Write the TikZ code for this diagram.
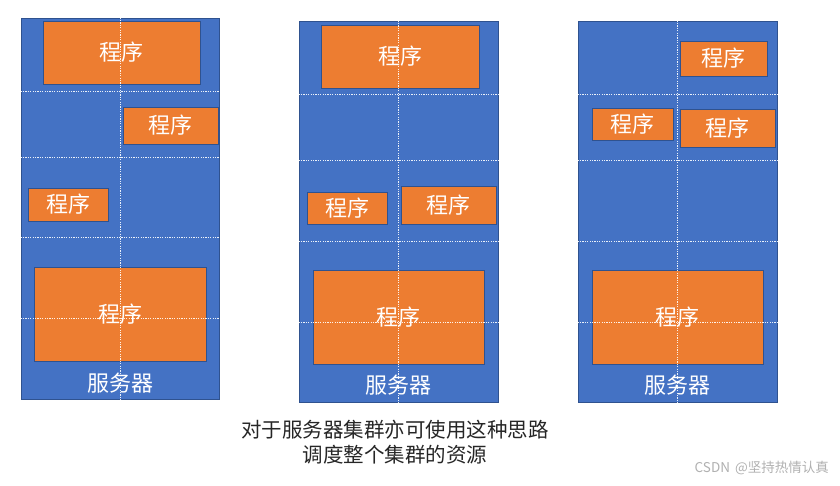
\documentclass[tikz,border=0pt]{standalone}
\usepackage{fontspec}
\setmainfont{Noto Sans CJK SC}
\definecolor{srvblue}{HTML}{4472C4}
\definecolor{edgeblue}{HTML}{2F528F}
\definecolor{progorange}{HTML}{ED7D31}
\definecolor{wmgray}{HTML}{B0B0B0}
\begin{document}
\begin{tikzpicture}[x=1pt,y=-1pt,
  server/.style={draw=edgeblue,fill=srvblue,line width=0.9pt,inner sep=0pt},
  prog/.style={draw=edgeblue,fill=progorange,line width=0.9pt,inner sep=0pt,text=white,font=\fontsize{22}{24}\selectfont},
  grid/.style={draw=white,line width=0.6pt,dash pattern=on 1.2pt off 1.2pt,opacity=0.9},
  srvlabel/.style={text=white,font=\fontsize{22}{24}\selectfont,inner sep=0pt},
  caption/.style={text=black!85,font=\fontsize{20.5}{25}\selectfont,align=center,inner sep=0pt}]
\useasboundingbox (0,0) rectangle (840,485);
% ---------------- server 1
\node[server,minimum width=198pt,minimum height=381pt] (s1) at (120,208.5) {};
\node[prog,minimum width=157pt,minimum height=63pt] (a1) at (121.5,52.5) {程序};
\node[prog,minimum width=95pt,minimum height=37pt] (a2) at (170.5,125.5) {程序};
\node[prog,minimum width=80pt,minimum height=33pt] (a3) at (68,204.5) {程序};
\node[prog,minimum width=172pt,minimum height=94pt] (a4) at (120,314) {程序};
\draw[grid] (s1.north west -| 120.3,0) -- (s1.south west -| 120.3,0);
\foreach \yy in {91,157,237,318}{\draw[grid] (s1.west |- 0,\yy) -- (s1.east |- 0,\yy);}
\node[srvlabel] (l1) at (120,383) {服务器};
% ---------------- server 2
\node[server,minimum width=199pt,minimum height=381pt] (s2) at (398.5,211.5) {};
\node[prog,minimum width=158pt,minimum height=63pt] (b1) at (400,56.5) {程序};
\node[prog,minimum width=80pt,minimum height=32pt] (b2) at (347,208) {程序};
\node[prog,minimum width=95pt,minimum height=38pt] (b3) at (448.5,205) {程序};
\node[prog,minimum width=171pt,minimum height=94pt] (b4) at (398.5,317) {程序};
\draw[grid] (s2.north west -| 398.3,0) -- (s2.south west -| 398.3,0);
\foreach \yy in {94,160,241,322}{\draw[grid] (s2.west |- 0,\yy) -- (s2.east |- 0,\yy);}
\node[srvlabel] (l2) at (398.5,385) {服务器};
% ---------------- server 3
\node[server,minimum width=199pt,minimum height=381pt] (s3) at (677.5,211.5) {};
\node[prog,minimum width=87pt,minimum height=35pt] (c1) at (723.5,58.5) {程序};
\node[prog,minimum width=81pt,minimum height=32pt] (c2) at (632.5,124) {程序};
\node[prog,minimum width=95pt,minimum height=38pt] (c3) at (727.5,128) {程序};
\node[prog,minimum width=171pt,minimum height=94pt] (c4) at (677.5,317) {程序};
\draw[grid] (s3.north west -| 677.3,0) -- (s3.south west -| 677.3,0);
\foreach \yy in {94,160,241,322}{\draw[grid] (s3.west |- 0,\yy) -- (s3.east |- 0,\yy);}
\node[srvlabel] (l3) at (677.5,385) {服务器};
% ---------------- caption
\node[caption] (cap) at (395,442) {对于服务器集群亦可使用这种思路\\调度整个集群的资源};
\node[text=wmgray,font=\fontsize{13.5}{15}\selectfont,anchor=east,inner sep=0pt] (wm) at (829,468) {CSDN\hspace{5pt}@坚持热情认真};
\end{tikzpicture}
\end{document}
